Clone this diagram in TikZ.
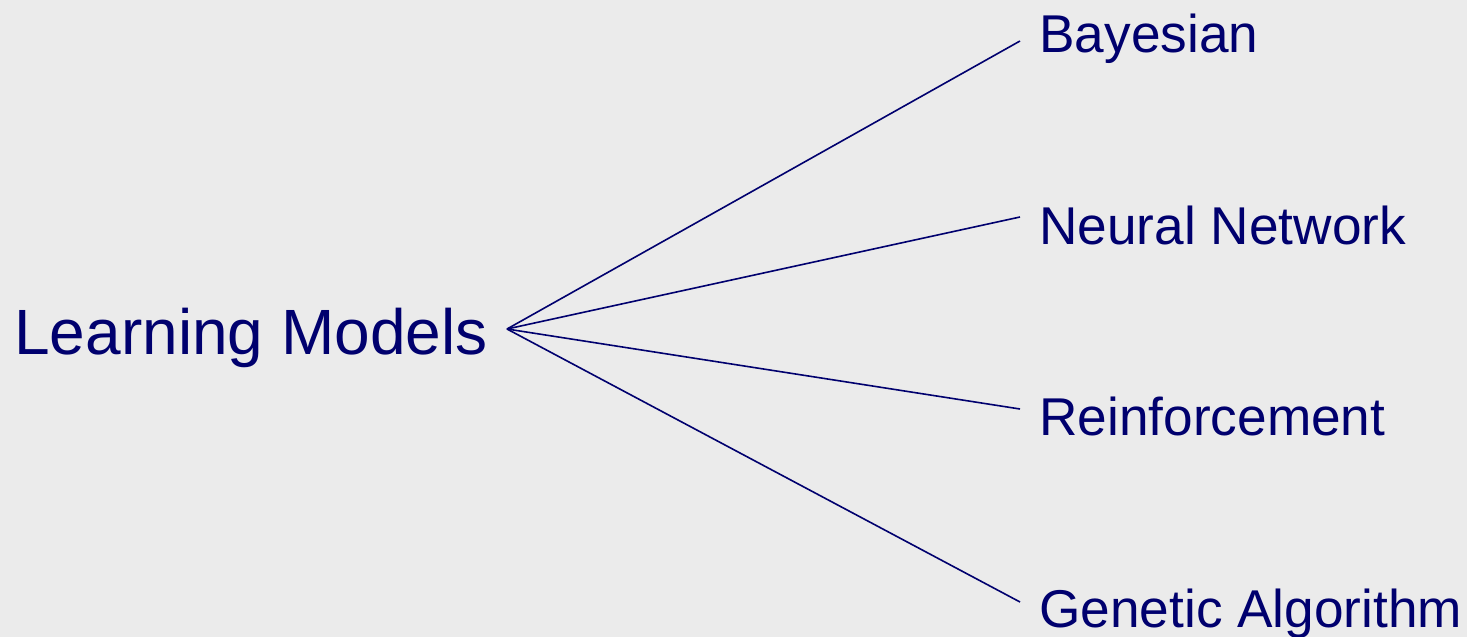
\documentclass[tikz,border=0pt]{standalone}
\usepackage{fontspec}
\setmainfont{Liberation Sans}
\definecolor{navy}{RGB}{0,0,110}
\definecolor{bg}{RGB}{235,235,235}
\tikzset{
  rootlabel/.style={anchor=base west, inner sep=0pt, text=navy, font=\fontsize{32}{38}\selectfont},
  leaflabel/.style={anchor=base west, inner sep=0pt, text=navy, font=\fontsize{26.6}{32}\selectfont},
  branch/.style={draw=navy, line width=0.8pt}
}
\begin{document}
\begin{tikzpicture}[x=0.5pt, y=-0.5pt]
\fill[bg] (0,0) rectangle (1467,637);
\useasboundingbox (0,0) rectangle (1467,637);
\node[rootlabel] (lm) at (14,354) {Learning Models};
\node[leaflabel] (bay) at (1039,52) {Bayesian};
\node[leaflabel] (nn) at (1039,244) {Neural Network};
\node[leaflabel] (rl) at (1039,435) {Reinforcement};
\node[leaflabel] (ga) at (1039,627) {Genetic Algorithm};
\coordinate (hub) at (507,329);
\coordinate (e1) at (1020,41);
\coordinate (e2) at (1020,217);
\coordinate (e3) at (1020,409);
\coordinate (e4) at (1020,602);
\draw[branch] (hub) -- (e1);
\draw[branch] (hub) -- (e2);
\draw[branch] (hub) -- (e3);
\draw[branch] (hub) -- (e4);
\end{tikzpicture}
\end{document}
